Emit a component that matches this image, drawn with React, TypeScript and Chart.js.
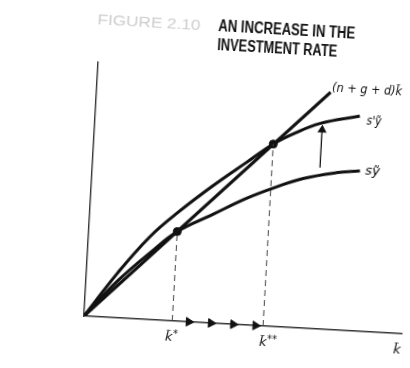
import React, { useEffect, useRef } from "react";
import { Chart, registerables } from "chart.js";

Chart.register(...registerables);

// (n+g+d)k line
const lineK = [0, 7.35];
const lineY = [0, 7.47];
// s'y curve (higher investment rate)
const sPrimeK = [0, 0.97, 1.93, 2.8, 3.83, 4.84, 5.64, 6.3, 7.07, 8.31];
const sPrimeY = [0, 1.4, 2.61, 3.45, 4.33, 5.12, 5.74, 6.12, 6.47, 6.77];
// sy curve (original investment rate)
const sK = [0, 1.0, 2.0, 2.78, 3.88, 4.9, 5.82, 6.64, 7.68, 8.41];
const sY = [0, 1.17, 2.14, 2.82, 3.43, 3.99, 4.4, 4.71, 4.95, 5.05];
// steady states k* and k**
const steadyK = [2.78, 5.64];
const steadyY = [2.82, 5.74];
// transition arrows on the k axis
const transitionK = [3.3, 4.0, 4.7, 5.4];
// upward shift arrow
const shiftK = [7.15, 7.15];
const shiftY = [5.08, 6.27];
// labels
const curveLabels = ["(n + g + d)k\u0303", "s'\u1EF9", "s\u1EF9"];
const curveLabelK = [7.39, 8.53, 8.57];
const curveLabelY = [7.6, 6.64, 5.04];
const axisLabelBase = ["k\u0303", "k\u0303", "k\u0303"];
const axisLabelSup = ["*", "**", ""];
const axisLabelK = [2.7, 5.66, 9.88];
const figureLabel = "FIGURE 2.10";
const titleLines = ["AN INCREASE IN THE", "INVESTMENT RATE"];

const pts = (xs: number[], ys: number[]) => xs.map((x, i) => ({ x, y: ys[i] }));

function fitText(ctx: CanvasRenderingContext2D, text: string, x: number, y: number, w: number, font: string, color: string) {
  ctx.save();
  ctx.font = font;
  ctx.fillStyle = color;
  ctx.textAlign = "left";
  const m = ctx.measureText(text).width;
  ctx.translate(x, y);
  ctx.scale(w / m, 1);
  ctx.fillText(text, 0, 0);
  ctx.restore();
}

const annotPlugin = {
  id: "annot",
  afterDatasetsDraw(chart: any) {
    const { ctx, scales } = chart;
    const xs = scales.x;
    const ys = scales.y;
    ctx.save();
    ctx.textBaseline = "alphabetic";
    fitText(ctx, figureLabel, 81, 24, 103, '14px "Liberation Sans"', "#cdcdcd");
    fitText(ctx, titleLines[0], 202, 23.5, 137, 'bold 16px "Liberation Sans"', "#111");
    fitText(ctx, titleLines[1], 202, 42.5, 120, 'bold 16px "Liberation Sans"', "#111");

    ctx.textBaseline = "middle";
    const labelW = [70, 15, 15];
    curveLabels.forEach((t, i) => {
      fitText(
        ctx,
        t,
        xs.getPixelForValue(curveLabelK[i]),
        ys.getPixelForValue(curveLabelY[i]),
        labelW[i],
        'italic 13px "DejaVu Sans"',
        "#111"
      );
    });

    ctx.fillStyle = "#111";
    const baseY = ys.getPixelForValue(0) + 17;
    axisLabelBase.forEach((t, i) => {
      ctx.font = 'italic 13px "DejaVu Sans"';
      ctx.textAlign = "center";
      ctx.textBaseline = "middle";
      const cx = xs.getPixelForValue(axisLabelK[i]);
      ctx.fillText(t, cx, baseY);
      if (axisLabelSup[i]) {
        ctx.font = '10px "DejaVu Sans"';
        ctx.textAlign = "left";
        ctx.fillText(axisLabelSup[i], cx + 4, baseY - 4);
      }
    });
    ctx.restore();
  },
};

export default function App() {
  const ref = useRef<HTMLCanvasElement>(null);
  useEffect(() => {
    if (!ref.current) return;
    const black = "#111";
    const chart = new Chart(ref.current, {
      type: "scatter",
      data: {
        datasets: [
          {
            data: pts([steadyK[0], steadyK[0]], [0, steadyY[0]]),
            showLine: true,
            borderColor: "#444",
            borderWidth: 1,
            borderDash: [6, 4],
            pointRadius: 0,
          },
          {
            data: pts([steadyK[1], steadyK[1]], [0, steadyY[1]]),
            showLine: true,
            borderColor: "#444",
            borderWidth: 1,
            borderDash: [6, 4],
            pointRadius: 0,
          },
          {
            data: pts(sK, sY),
            showLine: true,
            borderColor: black,
            borderWidth: 3,
            pointRadius: 0,
            tension: 0.4,
          },
          {
            data: pts(sPrimeK, sPrimeY),
            showLine: true,
            borderColor: black,
            borderWidth: 3,
            pointRadius: 0,
            tension: 0.4,
          },
          {
            data: pts(lineK, lineY),
            showLine: true,
            borderColor: black,
            borderWidth: 3.2,
            pointRadius: 0,
          },
          {
            data: pts(steadyK, steadyY),
            showLine: false,
            backgroundColor: black,
            borderColor: black,
            pointRadius: 4,
          },
          {
            data: pts(shiftK, shiftY),
            showLine: true,
            borderColor: black,
            borderWidth: 1.3,
            backgroundColor: black,
            pointStyle: "triangle",
            pointRadius: [0, 4],
          },
          {
            data: transitionK.map((x) => ({ x, y: 0 })),
            showLine: false,
            backgroundColor: black,
            borderColor: black,
            pointStyle: "triangle",
            rotation: 90,
            pointRadius: 5,
            clip: false,
          },
        ] as any,
      },
      options: {
        animation: false,
        responsive: false,
        events: [],
        layout: { padding: { left: 84, right: 8, top: 62, bottom: 52 } },
        plugins: { legend: { display: false }, tooltip: { enabled: false } },
        scales: {
          x: {
            type: "linear",
            min: 0,
            max: 10,
            ticks: { display: false },
            grid: { display: false, drawTicks: false, tickLength: 0 },
            border: { display: true, color: "#333", width: 1.4 },
          },
          y: {
            type: "linear",
            min: 0,
            max: 8,
            ticks: { display: false },
            grid: { display: false, drawTicks: false, tickLength: 0 },
            border: { display: true, color: "#333", width: 1.4 },
          },
        },
      },
      plugins: [annotPlugin],
    });
    return () => chart.destroy();
  }, []);
  return (
    <div
      style={{
        position: "fixed",
        left: 0,
        top: 0,
        width: 410,
        height: 368,
        background: "#fff",
        transform: "rotate(3.2deg)",
        transformOrigin: "84px 316px",
      }}
    >
      <canvas ref={ref} width={410} height={368} style={{ display: "block" }} />
    </div>
  );
}
